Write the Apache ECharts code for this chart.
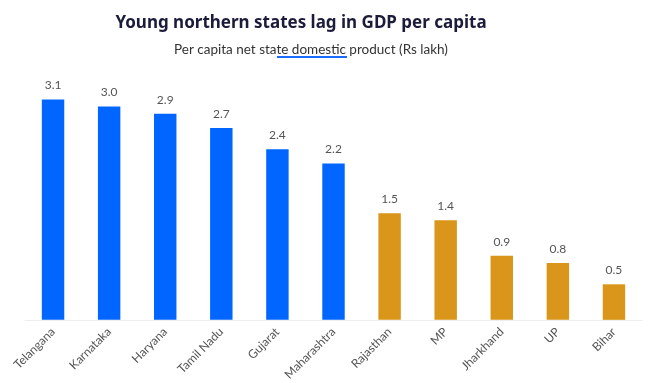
<!DOCTYPE html>
<html><head><meta charset="utf-8">
<script src="https://cdn.jsdelivr.net/npm/echarts@6/dist/echarts.min.js"></script>
<style>html,body{margin:0;padding:0;background:#fff}#c{width:650px;height:383px}</style>
</head><body><div id="c"></div>
<script>
const states = ["Telangana","Karnataka","Haryana","Tamil Nadu","Gujarat","Maharashtra","Rajasthan","MP","Jharkhand","UP","Bihar"];
const values = [3.1,3.0,2.9,2.7,2.4,2.2,1.5,1.4,0.9,0.8,0.5];
const groupColors = ["#0066ff","#0066ff","#0066ff","#0066ff","#0066ff","#0066ff","#d9961a","#d9961a","#d9961a","#d9961a","#d9961a"];
const font = "'Lato', 'Noto Sans', sans-serif";
const chart = echarts.init(document.getElementById('c'));
chart.setOption({
  animation:false,
  title:[
    {text:"Young northern states lag in GDP per capita", left:296, top:10, textAlign:'center',
     textStyle:{fontFamily:"'Noto Sans', sans-serif", fontWeight:'bold', fontSize:17, color:'#1b1b3a'}},
    {text:"Per capita net state domestic product (Rs lakh)", left:306, top:38, textAlign:'center',
     textStyle:{fontFamily:font, fontWeight:'normal', fontSize:13.5, color:'#333'}}
  ],
  graphic:[{type:'rect', shape:{x:277,y:56,width:70,height:2}, style:{fill:'#1a6bff'}}],
  grid:{left:25, right:8, top:71, bottom:63},
  xAxis:{type:'category', data:states,
    axisLine:{lineStyle:{color:'#eeeeee'}}, axisTick:{show:false},
    axisLabel:{rotate:45, color:'#555', fontSize:12, fontFamily:font, margin:10, interval:0}},
  yAxis:{type:'value', min:0, max:3.5, show:false, splitLine:{show:false}},
  series:[{type:'bar', barWidth:'40%',
    data: values.map((v,i)=>({value:v, itemStyle:{color:groupColors[i]}})),
    label:{show:true, position:'top', distance:8, color:'#555', fontSize:12, fontFamily:font,
      formatter:p=>p.value.toFixed(1)}}]
});
</script></body></html>
